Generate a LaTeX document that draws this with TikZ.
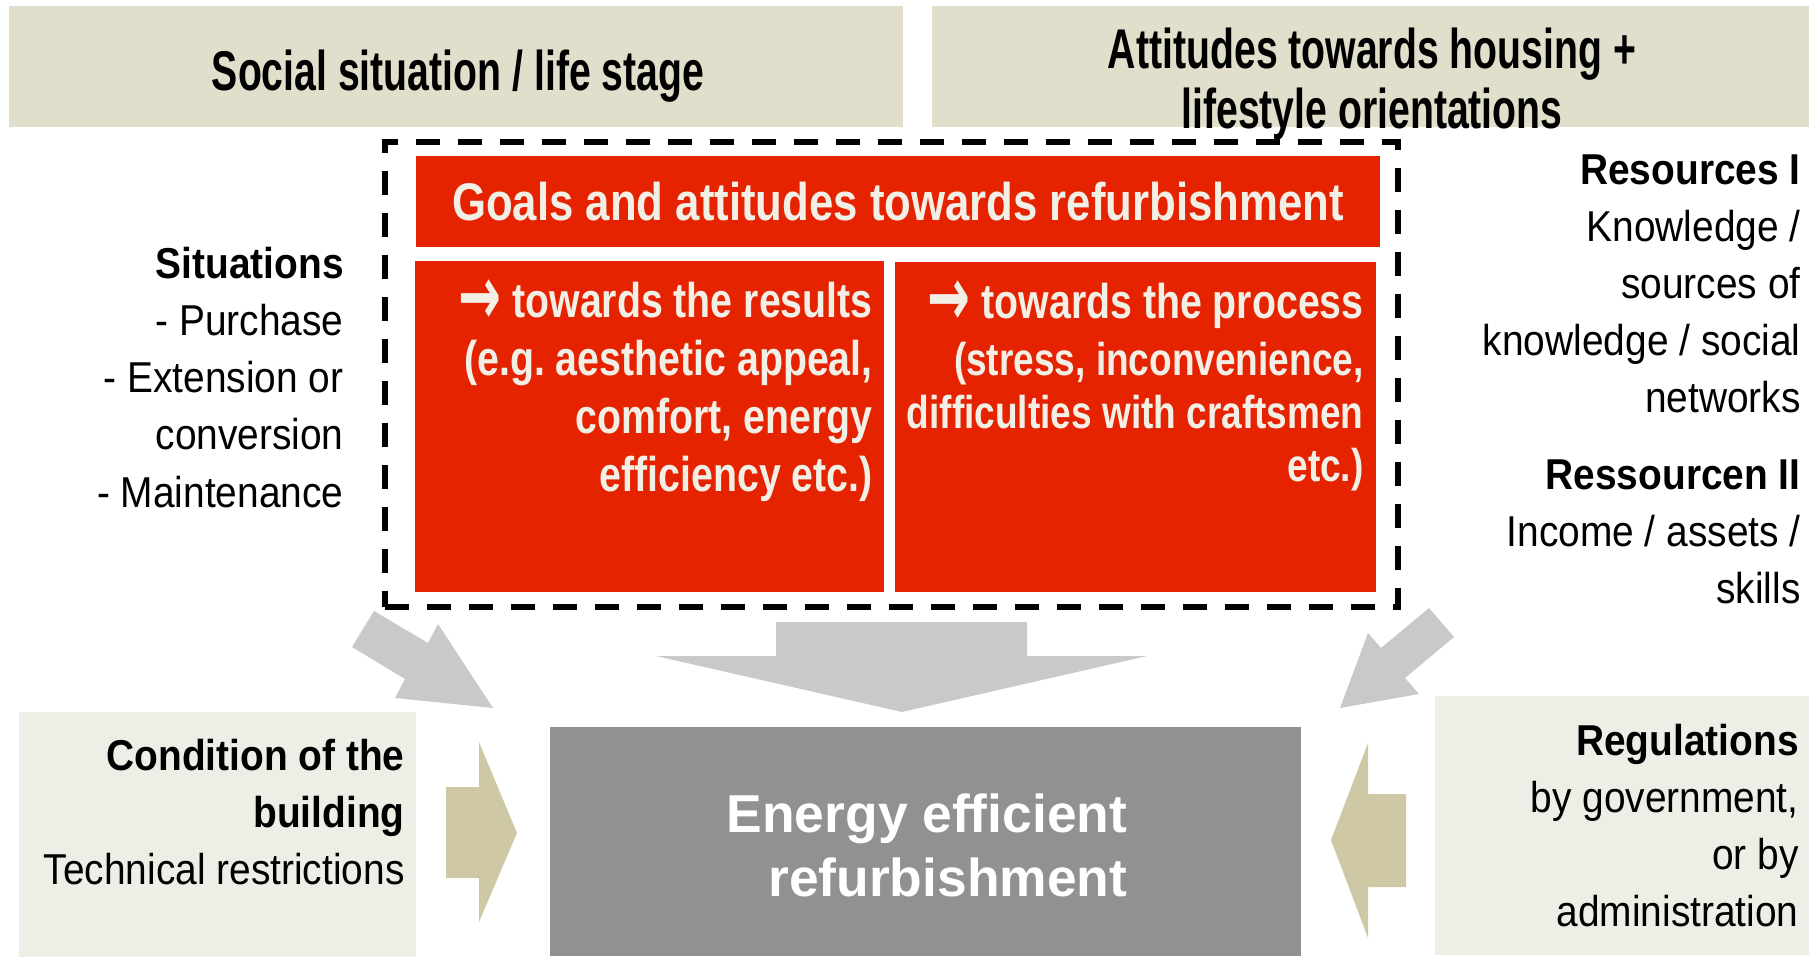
\documentclass[tikz,border=0pt]{standalone}
\usepackage{fontspec}
\setmainfont{Liberation Sans}
\newfontfamily\headfont{Liberation Sans}[FakeStretch=0.70]
\newfontfamily\goalfont{Liberation Sans}[FakeStretch=0.825]
\newfontfamily\aimfont{Liberation Sans}[FakeStretch=0.805]
\newfontfamily\sidefont{Liberation Sans}[FakeStretch=0.90]
\newfontfamily\arrowfont{DejaVu Sans}
\newcommand\towardsarrow{\raisebox{-0.13em}{\scalebox{1.05}[1.7]{\arrowfont →}}}
\frenchspacing
\usetikzlibrary{positioning}
\definecolor{sand}{RGB}{225,222,203}
\definecolor{paleSand}{RGB}{239,238,230}
\definecolor{khaki}{RGB}{207,200,165}
\definecolor{signalRed}{RGB}{230,35,0}
\definecolor{arrowGray}{RGB}{201,201,201}
\definecolor{boxGray}{RGB}{145,145,145}
\definecolor{offWhite}{RGB}{242,240,230}
\tikzset{
    headbox/.style={fill=sand, minimum height=60.5pt, inner sep=0pt},
    headtext/.style={align=center, inner sep=0pt,
        font=\headfont\bfseries\fontsize{28}{30}\selectfont},
    goalbox/.style={fill=signalRed, text=offWhite, inner sep=0pt},
    goaltext/.style={align=right, anchor=north east, inner sep=0pt, text=offWhite,
        font=\aimfont\bfseries\fontsize{24.4}{29}\selectfont},
    sidetext/.style={align=right, anchor=north east, inner sep=0pt,
        font=\sidefont\fontsize{21.6}{28.6}\selectfont},
    palebox/.style={fill=paleSand, inner sep=0pt},
    grayarrow/.style={fill=arrowGray},
    sandarrow/.style={fill=khaki}
}

\begin{document}
\begin{tikzpicture}[x=0.5pt,y=-0.5pt]
    \useasboundingbox (0,0) rectangle (1809,962);

    % context boxes on top
    \node[headbox,minimum width=447pt] at (456,66.5) (social) {};
    \node[headbox,minimum width=438.5pt] at (1370.5,66.5) (housing) {};
    \node[headtext] at (458,76) (socialtxt) {Social situation / life stage};
    \node[headtext] at (1372,84) (housingtxt) {Attitudes towards housing +\\lifestyle orientations};

    % goals and attitudes
    \node[draw,line width=2.6pt,dash pattern=on 12pt off 9pt,minimum width=506.5pt,minimum height=232.5pt] at (891.5,374.5) (frame) {};
    \node[goalbox,minimum width=482pt,minimum height=45.5pt,
        font=\goalfont\bfseries\fontsize{26.5}{30}\selectfont] at (898,201.5) (goals) {Goals and attitudes towards refurbishment};
    \node[goalbox,minimum width=234.5pt,minimum height=165.5pt] at (649.5,426.5) (results) {};
    \node[goalbox,minimum width=240.5pt,minimum height=165pt] at (1135.5,427) (process) {};
    \node[goaltext] at (873,279) (resultstxt) {\towardsarrow{} towards the results\\(e.g. aesthetic appeal,\\comfort, energy\\efficiency etc.)};
    \node[goaltext,font=\aimfont\bfseries\fontsize{23}{26.5}\selectfont] at (1364,280) (processtxt)
        {\fontsize{24.4}{29}\selectfont\towardsarrow{} towards the process\\[2pt]
        (stress, inconvenience,\\difficulties with craftsmen\\etc.)};

    % side factors
    \node[sidetext] at (344,246.5) (situations) {\textbf{Situations}\\- Purchase\\- Extension or\\conversion\\- Maintenance};
    \node[sidetext] at (1801,154) (resources) {\textbf{Resources I}\\Knowledge /\\sources of\\knowledge / social\\networks\\[9.5pt]\textbf{Ressourcen II}\\Income / assets /\\skills};

    % bottom row
    \node[palebox,minimum width=198.5pt,minimum height=122.5pt] at (217.5,834.5) (building) {};
    \node[palebox,minimum width=187pt,minimum height=129.5pt] at (1622,825.5) (rules) {};
    \node[sidetext] at (405,738.5) (buildingtxt) {\textbf{Condition of the}\\\textbf{building}\\Technical restrictions};
    \node[sidetext] at (1799,723.5) (rulestxt) {\textbf{Regulations}\\by government,\\or by\\administration};
    \node[fill=boxGray,inner sep=0pt,minimum width=375.5pt,minimum height=114.5pt] at (925.5,841.5) (result) {};
    \node[text=white,align=right,inner sep=0pt,font=\bfseries\fontsize{26.7}{32}\selectfont] at (927,845) (resulttxt) {Energy efficient\\refurbishment};

    % block arrows
    \fill[grayarrow] (776,622) -- (1027,622) -- (1027,656) -- (1147,656) -- (902,712) -- (656,656) -- (776,656) -- cycle;
    \fill[grayarrow] (374,611) -- (428,643) -- (438,624) -- (493,708) -- (395,698) -- (405,679) -- (352,647) -- cycle;
    \fill[grayarrow] (1429,608) -- (1454,637) -- (1405,678) -- (1419,694) -- (1340,708) -- (1368,633) -- (1381,648) -- cycle;
    \fill[sandarrow] (446,787) -- (479,787) -- (479,742) -- (517,833) -- (479,922) -- (479,878) -- (446,878) -- cycle;
    \fill[sandarrow] (1406,794) -- (1368,794) -- (1368,743) -- (1331,840) -- (1368,938) -- (1368,887) -- (1406,887) -- cycle;
\end{tikzpicture}
\end{document}
